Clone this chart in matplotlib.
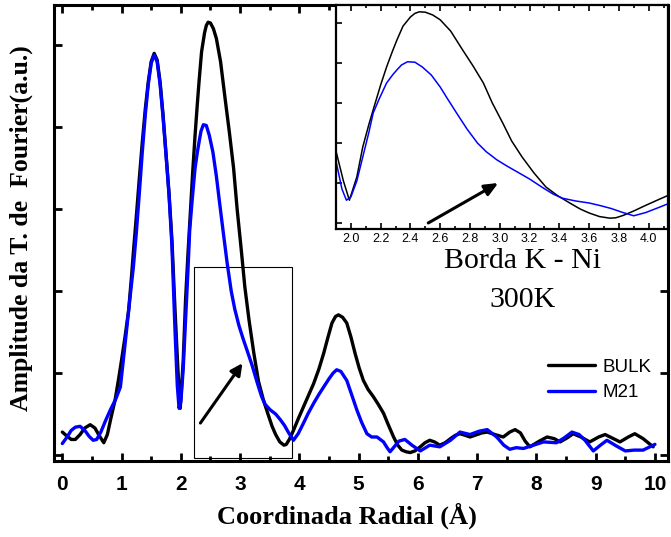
import matplotlib
matplotlib.use('Agg')
import matplotlib.pyplot as plt
from matplotlib.patches import Rectangle
from matplotlib.ticker import MultipleLocator, NullFormatter, FormatStrFormatter

# Fourier transform amplitude, Ni K edge, 300K
r_bulk = [0.00, 0.08, 0.15, 0.22, 0.30, 0.38, 0.47, 0.55, 0.62, 0.70,
          0.76, 0.82, 0.89, 0.95, 1.00, 1.06, 1.12, 1.17, 1.20, 1.25,
          1.30, 1.35, 1.40, 1.45, 1.50, 1.55, 1.60, 1.65, 1.70, 1.75,
          1.80, 1.85, 1.90, 1.95, 1.99, 2.04, 2.08, 2.12, 2.15, 2.20,
          2.24, 2.28, 2.31, 2.35, 2.40, 2.43, 2.46, 2.50, 2.55, 2.60,
          2.67, 2.75, 2.82, 2.89, 2.95, 3.02, 3.08, 3.15, 3.23, 3.31,
          3.39, 3.47, 3.54, 3.60, 3.67, 3.74, 3.78, 3.83, 3.90, 3.98,
          4.07, 4.15, 4.24, 4.33, 4.41, 4.48, 4.55, 4.61, 4.66, 4.73,
          4.80, 4.87, 4.94, 5.01, 5.08, 5.16, 5.25, 5.33, 5.42, 5.50,
          5.59, 5.66, 5.73, 5.80, 5.87, 5.95, 6.04, 6.12, 6.20, 6.28,
          6.37, 6.46, 6.55, 6.63, 6.71, 6.80, 6.88, 7.00, 7.08, 7.17,
          7.30, 7.44, 7.55, 7.64, 7.73, 7.81, 7.89, 8.05, 8.18, 8.30,
          8.40, 8.52, 8.62, 8.75, 8.90, 9.05, 9.16, 9.30, 9.41, 9.55,
          9.66, 9.80, 9.97]
a_bulk = [0.28, 0.23, 0.19, 0.19, 0.25, 0.33, 0.37, 0.33, 0.24, 0.15,
          0.25, 0.45, 0.67, 0.93, 1.16, 1.45, 1.77, 2.20, 2.48, 2.92,
          3.38, 3.82, 4.22, 4.55, 4.80, 4.90, 4.82, 4.55, 4.15, 3.68,
          3.20, 2.62, 1.80, 1.05, 0.57, 1.15, 1.90, 2.45, 2.83, 3.45,
          3.90, 4.30, 4.58, 4.92, 5.15, 5.24, 5.28, 5.27, 5.20, 5.08,
          4.80, 4.33, 3.93, 3.50, 3.00, 2.50, 2.05, 1.65, 1.25, 0.90,
          0.68, 0.50, 0.35, 0.25, 0.16, 0.12, 0.13, 0.19, 0.30, 0.44,
          0.59, 0.72, 0.87, 1.05, 1.24, 1.43, 1.61, 1.69, 1.71, 1.68,
          1.61, 1.44, 1.24, 1.06, 0.91, 0.80, 0.71, 0.62, 0.51, 0.37,
          0.22, 0.12, 0.06, 0.04, 0.03, 0.05, 0.10, 0.15, 0.18, 0.16,
          0.12, 0.15, 0.20, 0.24, 0.26, 0.24, 0.22, 0.25, 0.27, 0.28,
          0.25, 0.22, 0.28, 0.31, 0.27, 0.17, 0.10, 0.17, 0.22, 0.20,
          0.16, 0.21, 0.26, 0.22, 0.16, 0.22, 0.25, 0.20, 0.16, 0.22,
          0.26, 0.20, 0.10]

r_m21 = [0.00, 0.08, 0.15, 0.22, 0.30, 0.38, 0.45, 0.52, 0.58, 0.65,
         0.73, 0.81, 0.90, 0.98, 1.06, 1.11, 1.15, 1.20, 1.25, 1.30,
         1.35, 1.40, 1.45, 1.50, 1.55, 1.60, 1.65, 1.70, 1.75, 1.80,
         1.85, 1.90, 1.94, 1.97, 2.00, 2.04, 2.08, 2.12, 2.15, 2.19,
         2.24, 2.28, 2.31, 2.34, 2.38, 2.43, 2.48, 2.54, 2.60, 2.65,
         2.71, 2.78, 2.85, 2.91, 2.98, 3.05, 3.13, 3.20, 3.29, 3.36,
         3.42, 3.51, 3.60, 3.68, 3.75, 3.82, 3.90, 3.98, 4.07, 4.15,
         4.24, 4.33, 4.41, 4.50, 4.57, 4.63, 4.70, 4.80, 4.89, 4.97,
         5.05, 5.14, 5.22, 5.31, 5.42, 5.48, 5.53, 5.60, 5.68, 5.78,
         5.90, 6.04, 6.20, 6.37, 6.55, 6.71, 6.88, 7.03, 7.17, 7.33,
         7.45, 7.55, 7.66, 7.78, 7.95, 8.12, 8.34, 8.47, 8.60, 8.72,
         8.82, 8.96, 9.08, 9.19, 9.35, 9.50, 9.65, 9.80, 10.00]
a_m21 = [0.14, 0.22, 0.30, 0.34, 0.35, 0.30, 0.23, 0.18, 0.19, 0.28,
         0.42, 0.55, 0.68, 0.83, 1.36, 1.70, 1.97, 2.30, 2.72, 3.20,
         3.70, 4.15, 4.52, 4.78, 4.88, 4.80, 4.52, 4.12, 3.66, 3.18,
         2.55, 1.55, 0.85, 0.57, 0.65, 1.05, 1.65, 2.25, 2.75, 3.10,
         3.50, 3.70, 3.83, 3.95, 4.03, 4.02, 3.90, 3.70, 3.40, 3.10,
         2.75, 2.35, 2.00, 1.78, 1.58, 1.42, 1.25, 1.10, 0.88, 0.72,
         0.62, 0.55, 0.50, 0.43, 0.36, 0.27, 0.18, 0.26, 0.39, 0.51,
         0.63, 0.74, 0.83, 0.93, 1.00, 1.04, 1.02, 0.91, 0.72, 0.55,
         0.40, 0.26, 0.22, 0.22, 0.16, 0.09, 0.04, 0.10, 0.17, 0.19,
         0.12, 0.05, 0.12, 0.10, 0.18, 0.28, 0.25, 0.29, 0.31, 0.22,
         0.12, 0.07, 0.09, 0.08, 0.12, 0.16, 0.15, 0.21, 0.28, 0.25,
         0.18, 0.05, 0.12, 0.18, 0.11, 0.05, 0.06, 0.06, 0.13]

zoom_box = (2.23, -0.04, 1.65, 2.33)     # x0, y0, width, height
main_arrow = ((2.33, 0.39), (3.04, 1.12))
inset_arrow = ((2.52, 0.0), (2.99, 1.0))

serif_bold = dict(family='Liberation Serif', weight='bold')
line_kw = dict(solid_joinstyle='round', solid_capstyle='round')

fig = plt.figure(figsize=(6.71, 5.37), dpi=100)
ax = fig.add_axes([0.0805, 0.1415, 0.915, 0.8492])

ax.plot(r_bulk, a_bulk, color='black', lw=2.4, label='BULK', **line_kw)
ax.plot(r_m21, a_m21, color='#0000ff', lw=2.4, label='M21', **line_kw)

ax.add_patch(Rectangle(zoom_box[:2], zoom_box[2], zoom_box[3],
                       fill=False, edgecolor='black', lw=0.8))
ax.annotate('', xy=main_arrow[1], xytext=main_arrow[0],
            arrowprops=dict(arrowstyle='-|>,head_length=0.7,head_width=0.35',
                            color='black', lw=2.2, shrinkA=0, shrinkB=0))

ax.set_xlim(-0.14, 10.22)
ax.set_ylim(-0.073, 5.49)
ax.xaxis.set_major_locator(MultipleLocator(1))
ax.xaxis.set_minor_locator(MultipleLocator(0.5))
ax.yaxis.set_major_locator(MultipleLocator(1))
ax.yaxis.set_major_formatter(NullFormatter())
ax.tick_params(which='both', direction='in', top=True, right=True, width=2)
ax.tick_params(which='major', length=6)
ax.tick_params(which='minor', length=3.5)
ax.tick_params(axis='x', which='major', pad=10)
for lab in ax.get_xticklabels():
    lab.set_fontfamily('Liberation Sans')
    lab.set_fontweight('bold')
    lab.set_fontsize(15)
for sp in ax.spines.values():
    sp.set_linewidth(2.2)

ax.set_xlabel('Coordinada Radial (Å)', fontsize=19, **serif_bold)
ax.xaxis.set_label_coords(0.477, -0.092)
ax.set_ylabel('Amplitude da T. de  Fourier(a.u.)', fontsize=18.5, **serif_bold)
ax.yaxis.set_label_coords(-0.034, 0.51)

ax.legend(loc='upper left', bbox_to_anchor=(0.805, 0.225), frameon=False,
          borderpad=0, borderaxespad=0, handlelength=2.5,
          handletextpad=0.37, labelspacing=0.45,
          prop=dict(family='Liberation Sans', size=13.5))

ax.text(0.763, 0.423, 'Borda K - Ni', transform=ax.transAxes, ha='center',
        va='baseline', family='Liberation Serif', fontsize=21.5)
ax.text(0.763, 0.338, '300K', transform=ax.transAxes, ha='center',
        va='baseline', family='Liberation Serif', fontsize=21.5)

# zoomed view of the second shell
ins = fig.add_axes([0.5007, 0.5736, 0.4948, 0.4171])
ins.plot(r_bulk, a_bulk, color='black', lw=1.1, **line_kw)
ins.plot(r_m21, a_m21, color='#0000ff', lw=1.1, **line_kw)
ins.annotate('', xy=inset_arrow[1], xytext=inset_arrow[0],
             arrowprops=dict(arrowstyle='-|>,head_length=0.8,head_width=0.35',
                             color='black', lw=2.2, shrinkA=0, shrinkB=0))
ins.set_xlim(1.90, 4.13)
ins.set_ylim(-0.15, 5.45)
ins.xaxis.set_major_locator(MultipleLocator(0.2))
ins.xaxis.set_minor_locator(MultipleLocator(0.1))
ins.xaxis.set_major_formatter(FormatStrFormatter('%.1f'))
ins.yaxis.set_major_locator(MultipleLocator(1))
ins.yaxis.set_major_formatter(NullFormatter())
ins.tick_params(which='both', direction='in', top=True, width=1.2)
ins.tick_params(which='major', length=4)
ins.tick_params(which='minor', length=2.5)
ins.tick_params(axis='x', pad=3, labelsize=9)
for lab in ins.get_xticklabels():
    lab.set_fontfamily('Liberation Sans')
for sp in ins.spines.values():
    sp.set_linewidth(1.6)

fig.savefig('out.png', dpi=100)
